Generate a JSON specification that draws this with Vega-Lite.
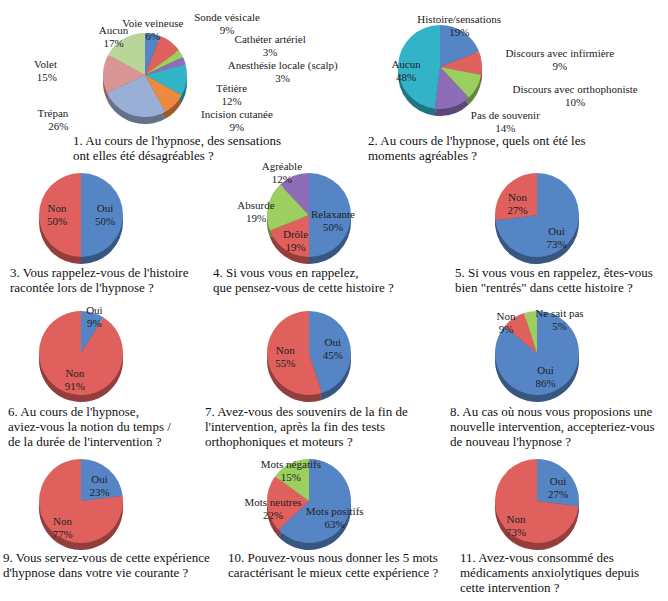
{
  "$schema": "https://vega.github.io/schema/vega-lite/v6.json",
  "padding": 0,
  "background": "white",
  "config": {
    "view": {"stroke": null},
    "title": {"orient": "bottom", "anchor": "start", "frame": "group", "baseline": "top", "font": "Liberation Serif", "fontSize": 13, "fontWeight": "normal", "color": "#111", "lineHeight": 15},
    "text": {"font": "Liberation Serif", "fontSize": 11, "color": "#222", "lineBreak": "\n"}
  },
  "data": {
    "values": [
      {"q": 1, "cat": "Voie veineuse", "pct": 6},
      {"q": 1, "cat": "Sonde vésicale", "pct": 9},
      {"q": 1, "cat": "Cathéter artériel", "pct": 3},
      {"q": 1, "cat": "Anesthésie locale (scalp)", "pct": 3},
      {"q": 1, "cat": "Têtière", "pct": 12},
      {"q": 1, "cat": "Incision cutanée", "pct": 9},
      {"q": 1, "cat": "Trépan", "pct": 26},
      {"q": 1, "cat": "Volet", "pct": 15},
      {"q": 1, "cat": "Aucun", "pct": 17},
      {"q": 2, "cat": "Histoire/sensations", "pct": 19},
      {"q": 2, "cat": "Discours avec infirmière", "pct": 9},
      {"q": 2, "cat": "Discours avec orthophoniste", "pct": 10},
      {"q": 2, "cat": "Pas de souvenir", "pct": 14},
      {"q": 2, "cat": "Aucun", "pct": 48},
      {"q": 3, "cat": "Oui", "pct": 50},
      {"q": 3, "cat": "Non", "pct": 50},
      {"q": 4, "cat": "Relaxante", "pct": 50},
      {"q": 4, "cat": "Drôle", "pct": 19},
      {"q": 4, "cat": "Absurde", "pct": 19},
      {"q": 4, "cat": "Agréable", "pct": 12},
      {"q": 5, "cat": "Oui", "pct": 73},
      {"q": 5, "cat": "Non", "pct": 27},
      {"q": 6, "cat": "Oui", "pct": 9},
      {"q": 6, "cat": "Non", "pct": 91},
      {"q": 7, "cat": "Oui", "pct": 45},
      {"q": 7, "cat": "Non", "pct": 55},
      {"q": 8, "cat": "Oui", "pct": 86},
      {"q": 8, "cat": "Non", "pct": 9},
      {"q": 8, "cat": "Ne sait pas", "pct": 5},
      {"q": 9, "cat": "Oui", "pct": 23},
      {"q": 9, "cat": "Non", "pct": 77},
      {"q": 10, "cat": "Mots positifs", "pct": 63},
      {"q": 10, "cat": "Mots neutres", "pct": 22},
      {"q": 10, "cat": "Mots négatifs", "pct": 15},
      {"q": 11, "cat": "Oui", "pct": 27},
      {"q": 11, "cat": "Non", "pct": 73}
    ]
  },
  "columns": 3,
  "align": "none",
  "bounds": "flush",
  "spacing": {"row": 30, "column": 66},
  "concat": [
    {
      "width": 162, "height": 148,
      "title": {"text": ["1. Au cours de l'hypnose, des sensations", "ont elles été désagréables ?"], "dx": 73, "offset": -14},
      "transform": [
        {"filter": "datum.q == 1"},
        {"window": [{"op": "row_number", "as": "k"}]},
        {"calculate": "datum.cat + '\\n' + datum.pct + '%'", "as": "label"}
      ],
      "encoding": {
        "theta": {"field": "pct", "type": "quantitative", "stack": true},
        "order": {"field": "k", "type": "quantitative"}
      },
      "layer": [
        {"mark": {"type": "arc", "outerRadius": 42, "xOffset": 64, "yOffset": 7}, "encoding": {"color": {"field": "k", "type": "ordinal", "legend": null, "scale": {"domain": [1, 2, 3, 4, 5, 6, 7, 8, 9], "range": ["#5585c5", "#e0605d", "#9ccf5f", "#8d6db8", "#33b3c8", "#ee8a40", "#99afd6", "#d99694", "#b9d597"]}}}},
        {"mark": {"type": "arc", "outerRadius": 42, "xOffset": 64, "yOffset": 7, "fill": "#000", "opacity": 0.35}},
        {"mark": {"type": "arc", "outerRadius": 42, "xOffset": 64}, "encoding": {"color": {"field": "k", "type": "ordinal", "legend": null}}},
        {"mark": {"type": "text", "radius": 52, "xOffset": 64, "dx": -2}, "encoding": {"text": {"condition": {"test": "datum.cat == 'Voie veineuse'", "field": "label"}, "value": ""}}},
        {"mark": {"type": "text", "radius": 62, "xOffset": 64, "dx": 44, "dy": -8}, "encoding": {"text": {"condition": {"test": "datum.cat == 'Sonde vésicale'", "field": "label"}, "value": ""}}},
        {"mark": {"type": "text", "radius": 56, "xOffset": 64, "dx": 77, "dy": -6}, "encoding": {"text": {"condition": {"test": "datum.cat == 'Cathéter artériel'", "field": "label"}, "value": ""}}},
        {"mark": {"type": "text", "radius": 56, "xOffset": 64, "dx": 85, "dy": 10}, "encoding": {"text": {"condition": {"test": "datum.cat == 'Anesthésie locale (scalp)'", "field": "label"}, "value": ""}}},
        {"mark": {"type": "text", "radius": 50, "xOffset": 64, "dx": 37, "dy": 8}, "encoding": {"text": {"condition": {"test": "datum.cat == 'Têtière'", "field": "label"}, "value": ""}}},
        {"mark": {"type": "text", "radius": 48, "xOffset": 64, "dx": 58, "dy": 6}, "encoding": {"text": {"condition": {"test": "datum.cat == 'Incision cutanée'", "field": "label"}, "value": ""}}},
        {"mark": {"type": "text", "radius": 54, "xOffset": 64, "dx": -60, "dy": -12, "align": "right"}, "encoding": {"text": {"condition": {"test": "datum.cat == 'Trépan'", "field": "label"}, "value": ""}}},
        {"mark": {"type": "text", "radius": 52, "xOffset": 64, "dx": -36, "dy": -8, "align": "right"}, "encoding": {"text": {"condition": {"test": "datum.cat == 'Volet'", "field": "label"}, "value": ""}}},
        {"mark": {"type": "text", "radius": 54, "xOffset": 64, "dx": -4, "dy": 2}, "encoding": {"text": {"condition": {"test": "datum.cat == 'Aucun'", "field": "label"}, "value": ""}}}
      ]
    },
    {
      "width": 162, "height": 148,
      "title": {"text": ["2. Au cours de l'hypnose, quels ont été les", "moments agréables ?"], "dx": 140, "offset": -14},
      "transform": [
        {"filter": "datum.q == 2"},
        {"window": [{"op": "row_number", "as": "k"}]},
        {"calculate": "datum.cat + '\\n' + datum.pct + '%'", "as": "label"}
      ],
      "encoding": {
        "theta": {"field": "pct", "type": "quantitative", "stack": true},
        "order": {"field": "k", "type": "quantitative"}
      },
      "layer": [
        {"mark": {"type": "arc", "outerRadius": 42, "xOffset": 131, "yOffset": -1}, "encoding": {"color": {"field": "k", "type": "ordinal", "legend": null}}},
        {"mark": {"type": "arc", "outerRadius": 42, "xOffset": 131, "yOffset": -1, "fill": "#000", "opacity": 0.35}},
        {"mark": {"type": "arc", "outerRadius": 42, "xOffset": 131, "yOffset": -8}, "encoding": {"color": {"field": "k", "type": "ordinal", "legend": null}}},
        {"mark": {"type": "text", "radius": 52, "xOffset": 131, "yOffset": -8, "dx": -10, "dy": -4}, "encoding": {"text": {"condition": {"test": "datum.cat == 'Histoire/sensations'", "field": "label"}, "value": ""}}},
        {"mark": {"type": "text", "radius": 50, "xOffset": 131, "yOffset": -8, "dx": 70, "dy": -8}, "encoding": {"text": {"condition": {"test": "datum.cat == 'Discours avec infirmière'", "field": "label"}, "value": ""}}},
        {"mark": {"type": "text", "radius": 48, "xOffset": 131, "yOffset": -8, "dx": 93, "dy": 0}, "encoding": {"text": {"condition": {"test": "datum.cat == 'Discours avec orthophoniste'", "field": "label"}, "value": ""}}},
        {"mark": {"type": "text", "radius": 56, "xOffset": 131, "yOffset": -8, "dx": 48, "dy": -4}, "encoding": {"text": {"condition": {"test": "datum.cat == 'Pas de souvenir'", "field": "label"}, "value": ""}}},
        {"mark": {"type": "text", "radius": 34, "xOffset": 131, "yOffset": -8}, "encoding": {"text": {"condition": {"test": "datum.cat == 'Aucun'", "field": "label"}, "value": ""}}}
      ]
    },
    {
      "width": 162, "height": 148,
      "transform": [{"filter": "datum.q == 0"}],
      "mark": {"type": "text"},
      "encoding": {"text": {"value": ""}}
    },
    {
      "width": 162, "height": 72,
      "title": {"text": ["3. Vous rappelez-vous de l'histoire", "racontée lors de l'hypnose ?"], "dx": 10, "offset": 3},
      "transform": [
        {"filter": "datum.q == 3"},
        {"window": [{"op": "row_number", "as": "k"}]},
        {"calculate": "datum.cat + '\\n' + datum.pct + '%'", "as": "label"}
      ],
      "encoding": {
        "theta": {"field": "pct", "type": "quantitative", "stack": true},
        "order": {"field": "k", "type": "quantitative"}
      },
      "layer": [
        {"mark": {"type": "arc", "outerRadius": 42, "yOffset": 7}, "encoding": {"color": {"field": "k", "type": "ordinal", "legend": null}}},
        {"mark": {"type": "arc", "outerRadius": 42, "yOffset": 7, "fill": "#000", "opacity": 0.35}},
        {"mark": {"type": "arc", "outerRadius": 42}, "encoding": {"color": {"field": "k", "type": "ordinal", "legend": null}}},
        {"mark": {"type": "text", "radius": 24, "dy": -6}, "encoding": {"text": {"field": "label"}}}
      ]
    },
    {
      "width": 162, "height": 72,
      "title": {"text": ["4. Si vous vous en rappelez,", "que pensez-vous de cette histoire ?"], "dx": -15, "offset": 3},
      "transform": [
        {"filter": "datum.q == 4"},
        {"window": [{"op": "row_number", "as": "k"}]},
        {"calculate": "datum.cat + '\\n' + datum.pct + '%'", "as": "label"}
      ],
      "encoding": {
        "theta": {"field": "pct", "type": "quantitative", "stack": true},
        "order": {"field": "k", "type": "quantitative"}
      },
      "layer": [
        {"mark": {"type": "arc", "outerRadius": 42, "yOffset": 7}, "encoding": {"color": {"field": "k", "type": "ordinal", "legend": null}}},
        {"mark": {"type": "arc", "outerRadius": 42, "yOffset": 7, "fill": "#000", "opacity": 0.35}},
        {"mark": {"type": "arc", "outerRadius": 42}, "encoding": {"color": {"field": "k", "type": "ordinal", "legend": null}}},
        {"mark": {"type": "text", "radius": 24}, "encoding": {"text": {"condition": {"test": "datum.cat == 'Relaxante' || datum.cat == 'Drôle'", "field": "label"}, "value": ""}}},
        {"mark": {"type": "text", "radius": 40, "dx": -14}, "encoding": {"text": {"condition": {"test": "datum.cat == 'Absurde'", "field": "label"}, "value": ""}}},
        {"mark": {"type": "text", "radius": 52, "dx": -8}, "encoding": {"text": {"condition": {"test": "datum.cat == 'Agréable'", "field": "label"}, "value": ""}}}
      ]
    },
    {
      "width": 162, "height": 72,
      "title": {"text": ["5. Si vous vous en rappelez, êtes-vous", "bien \"rentrés\" dans cette histoire ?"], "dx": -1, "offset": 3},
      "transform": [
        {"filter": "datum.q == 5"},
        {"window": [{"op": "row_number", "as": "k"}]},
        {"calculate": "datum.cat + '\\n' + datum.pct + '%'", "as": "label"}
      ],
      "encoding": {
        "theta": {"field": "pct", "type": "quantitative", "stack": true},
        "order": {"field": "k", "type": "quantitative"}
      },
      "layer": [
        {"mark": {"type": "arc", "outerRadius": 42, "yOffset": 7}, "encoding": {"color": {"field": "k", "type": "ordinal", "legend": null}}},
        {"mark": {"type": "arc", "outerRadius": 42, "yOffset": 7, "fill": "#000", "opacity": 0.35}},
        {"mark": {"type": "arc", "outerRadius": 42}, "encoding": {"color": {"field": "k", "type": "ordinal", "legend": null}}},
        {"mark": {"type": "text", "radius": 26}, "encoding": {"text": {"field": "label"}}}
      ]
    },
    {
      "width": 162, "height": 144,
      "title": {"text": ["6. Au cours de l'hypnose,", "aviez-vous la notion du temps /", "de la durée de l'intervention ?"], "dx": 8, "offset": -19},
      "transform": [
        {"filter": "datum.q == 6"},
        {"window": [{"op": "row_number", "as": "k"}]},
        {"calculate": "datum.cat + '\\n' + datum.pct + '%'", "as": "label"}
      ],
      "encoding": {
        "theta": {"field": "pct", "type": "quantitative", "stack": true},
        "order": {"field": "k", "type": "quantitative"}
      },
      "layer": [
        {"mark": {"type": "arc", "outerRadius": 42, "yOffset": 7}, "encoding": {"color": {"field": "k", "type": "ordinal", "legend": null}}},
        {"mark": {"type": "arc", "outerRadius": 42, "yOffset": 7, "fill": "#000", "opacity": 0.35}},
        {"mark": {"type": "arc", "outerRadius": 42}, "encoding": {"color": {"field": "k", "type": "ordinal", "legend": null}}},
        {"mark": {"type": "text", "radius": 48, "dy": 4}, "encoding": {"text": {"condition": {"test": "datum.cat == 'Oui'", "field": "label"}, "value": ""}}},
        {"mark": {"type": "text", "radius": 22}, "encoding": {"text": {"condition": {"test": "datum.cat == 'Non'", "field": "label"}, "value": ""}}}
      ]
    },
    {
      "width": 162, "height": 144,
      "title": {"text": ["7. Avez-vous des souvenirs de la fin de", "l'intervention, après la fin des tests", "orthophoniques et moteurs ?"], "dx": -23, "offset": -19},
      "transform": [
        {"filter": "datum.q == 7"},
        {"window": [{"op": "row_number", "as": "k"}]},
        {"calculate": "datum.cat + '\\n' + datum.pct + '%'", "as": "label"}
      ],
      "encoding": {
        "theta": {"field": "pct", "type": "quantitative", "stack": true},
        "order": {"field": "k", "type": "quantitative"}
      },
      "layer": [
        {"mark": {"type": "arc", "outerRadius": 42, "yOffset": 7}, "encoding": {"color": {"field": "k", "type": "ordinal", "legend": null}}},
        {"mark": {"type": "arc", "outerRadius": 42, "yOffset": 7, "fill": "#000", "opacity": 0.35}},
        {"mark": {"type": "arc", "outerRadius": 42}, "encoding": {"color": {"field": "k", "type": "ordinal", "legend": null}}},
        {"mark": {"type": "text", "radius": 24, "dy": -6}, "encoding": {"text": {"field": "label"}}}
      ]
    },
    {
      "width": 162, "height": 144,
      "title": {"text": ["8. Au cas où nous vous proposions une", "nouvelle intervention, accepteriez-vous", "de nouveau l'hypnose ?"], "dx": -6, "offset": -19},
      "transform": [
        {"filter": "datum.q == 8"},
        {"window": [{"op": "row_number", "as": "k"}]},
        {"calculate": "datum.cat + '\\n' + datum.pct + '%'", "as": "label"}
      ],
      "encoding": {
        "theta": {"field": "pct", "type": "quantitative", "stack": true},
        "order": {"field": "k", "type": "quantitative"}
      },
      "layer": [
        {"mark": {"type": "arc", "outerRadius": 42, "yOffset": 7}, "encoding": {"color": {"field": "k", "type": "ordinal", "legend": null}}},
        {"mark": {"type": "arc", "outerRadius": 42, "yOffset": 7, "fill": "#000", "opacity": 0.35}},
        {"mark": {"type": "arc", "outerRadius": 42}, "encoding": {"color": {"field": "k", "type": "ordinal", "legend": null}}},
        {"mark": {"type": "text", "radius": 20}, "encoding": {"text": {"condition": {"test": "datum.cat == 'Oui'", "field": "label"}, "value": ""}}},
        {"mark": {"type": "text", "radius": 48, "dx": -4, "dy": 4}, "encoding": {"text": {"condition": {"test": "datum.cat == 'Non'", "field": "label"}, "value": ""}}},
        {"mark": {"type": "text", "radius": 48, "dx": 30, "dy": 8}, "encoding": {"text": {"condition": {"test": "datum.cat == 'Ne sait pas'", "field": "label"}, "value": ""}}}
      ]
    },
    {
      "width": 162, "height": 92,
      "title": {"text": ["9. Vous servez-vous de cette expérience", "d'hypnose dans votre vie courante  ?"], "dx": 3, "offset": 2},
      "transform": [
        {"filter": "datum.q == 9"},
        {"window": [{"op": "row_number", "as": "k"}]},
        {"calculate": "datum.cat + '\\n' + datum.pct + '%'", "as": "label"}
      ],
      "encoding": {
        "theta": {"field": "pct", "type": "quantitative", "stack": true},
        "order": {"field": "k", "type": "quantitative"}
      },
      "layer": [
        {"mark": {"type": "arc", "outerRadius": 42, "yOffset": 7}, "encoding": {"color": {"field": "k", "type": "ordinal", "legend": null}}},
        {"mark": {"type": "arc", "outerRadius": 42, "yOffset": 7, "fill": "#000", "opacity": 0.35}},
        {"mark": {"type": "arc", "outerRadius": 42}, "encoding": {"color": {"field": "k", "type": "ordinal", "legend": null}}},
        {"mark": {"type": "text", "radius": 28}, "encoding": {"text": {"field": "label"}}}
      ]
    },
    {
      "width": 162, "height": 92,
      "title": {"text": ["10. Pouvez-vous nous donner les 5 mots", " caractérisant le mieux cette expérience ?"], "dx": 0, "offset": 2},
      "transform": [
        {"filter": "datum.q == 10"},
        {"window": [{"op": "row_number", "as": "k"}]},
        {"calculate": "datum.cat + '\\n' + datum.pct + '%'", "as": "label"}
      ],
      "encoding": {
        "theta": {"field": "pct", "type": "quantitative", "stack": true},
        "order": {"field": "k", "type": "quantitative"}
      },
      "layer": [
        {"mark": {"type": "arc", "outerRadius": 42, "yOffset": 7}, "encoding": {"color": {"field": "k", "type": "ordinal", "legend": null}}},
        {"mark": {"type": "arc", "outerRadius": 42, "yOffset": 7, "fill": "#000", "opacity": 0.35}},
        {"mark": {"type": "arc", "outerRadius": 42}, "encoding": {"color": {"field": "k", "type": "ordinal", "legend": null}}},
        {"mark": {"type": "text", "radius": 28}, "encoding": {"text": {"condition": {"test": "datum.cat == 'Mots positifs'", "field": "label"}, "value": ""}}},
        {"mark": {"type": "text", "radius": 32, "dx": -4}, "encoding": {"text": {"condition": {"test": "datum.cat == 'Mots neutres'", "field": "label"}, "value": ""}}},
        {"mark": {"type": "text", "radius": 40}, "encoding": {"text": {"condition": {"test": "datum.cat == 'Mots négatifs'", "field": "label"}, "value": ""}}}
      ]
    },
    {
      "width": 162, "height": 92,
      "title": {"text": ["11. Avez-vous consommé des", "médicaments anxiolytiques depuis", "cette intervention ?"], "dx": 4, "offset": 2},
      "transform": [
        {"filter": "datum.q == 11"},
        {"window": [{"op": "row_number", "as": "k"}]},
        {"calculate": "datum.cat + '\\n' + datum.pct + '%'", "as": "label"}
      ],
      "encoding": {
        "theta": {"field": "pct", "type": "quantitative", "stack": true},
        "order": {"field": "k", "type": "quantitative"}
      },
      "layer": [
        {"mark": {"type": "arc", "outerRadius": 42, "yOffset": 7}, "encoding": {"color": {"field": "k", "type": "ordinal", "legend": null}}},
        {"mark": {"type": "arc", "outerRadius": 42, "yOffset": 7, "fill": "#000", "opacity": 0.35}},
        {"mark": {"type": "arc", "outerRadius": 42}, "encoding": {"color": {"field": "k", "type": "ordinal", "legend": null}}},
        {"mark": {"type": "text", "radius": 28}, "encoding": {"text": {"field": "label"}}}
      ]
    }
  ]
}
